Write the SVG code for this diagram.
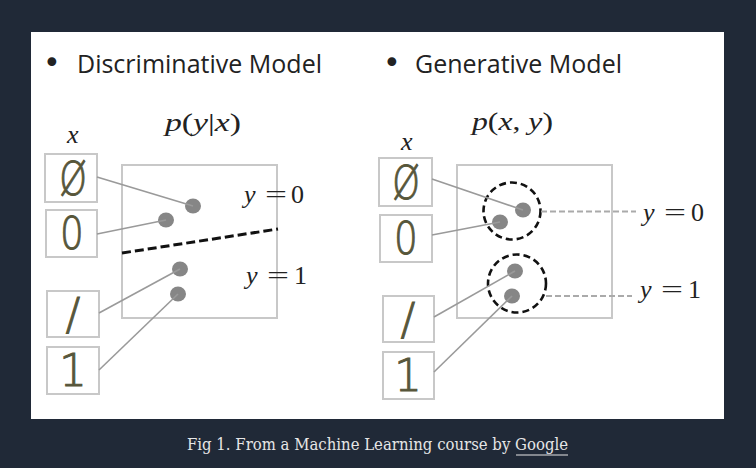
<svg xmlns="http://www.w3.org/2000/svg" width="756" height="468" viewBox="0 0 756 468">
<style>
.head{font-family:"Open Sans","Liberation Sans",sans-serif;font-size:25px;fill:#222}
.bul{font-family:"DejaVu Sans","Liberation Sans",sans-serif;font-size:30px;fill:#222}
.math{font-family:"Liberation Serif","DejaVu Serif",serif;font-size:26px;fill:#222}
.it{font-style:italic}
.box{fill:none;stroke:#c8c8c8;stroke-width:2}
.digit{font-family:"DejaVu Sans","Liberation Sans",sans-serif;font-weight:200;font-size:44px;fill:#57563a;stroke:#57563a;stroke-width:0.9;text-anchor:middle}
.dot{fill:#868686}
.conn{stroke:#9a9a9a;stroke-width:1.6;fill:none}
.cap{font-family:"DejaVu Serif","Liberation Serif",serif;font-size:16.5px;fill:#e6e6e6}
</style>
<rect width="756" height="468" fill="#202937"/>
<rect x="31" y="32" width="693" height="387" fill="#ffffff"/>

<g id="discriminative">
<text class="bul" x="43" y="73">•</text>
<text class="head" x="77" y="72.5" textLength="245" lengthAdjust="spacingAndGlyphs">Discriminative Model</text>
<text class="math" x="165" y="131" textLength="76" lengthAdjust="spacingAndGlyphs"><tspan class="it">p</tspan>(<tspan class="it">y</tspan>|<tspan class="it">x</tspan>)</text>
<text class="math it" x="67" y="143">x</text>
<rect class="box" x="122" y="165" width="155" height="153"/>
</g>

<g id="d-in-1"><rect class="box" x="45" y="154" width="52" height="48"/><text class="digit" transform="translate(73 195) scale(0.8 1.05)">Ø</text></g>
<g id="d-in-2"><rect class="box" x="46" y="210" width="51" height="47"/><text class="digit" transform="translate(72 249) scale(0.85 1)">0</text></g>
<g id="d-in-3"><rect class="box" x="47" y="291" width="52" height="46"/><text class="digit" x="73" y="330">/</text></g>
<g id="d-in-4"><rect class="box" x="47" y="347" width="52" height="47"/><text class="digit" x="73" y="386">1</text></g>

<g id="d-dots">
<ellipse class="dot" cx="193" cy="206" rx="8" ry="7.5"/>
<ellipse class="dot" cx="166" cy="220" rx="8" ry="7.5"/>
<ellipse class="dot" cx="180" cy="269" rx="8" ry="7.5"/>
<ellipse class="dot" cx="178" cy="294" rx="8" ry="7.5"/>
</g>
<g id="d-labels">
<text class="math" y="202.5"><tspan class="it" x="244">y</tspan><tspan x="265" textLength="22" lengthAdjust="spacingAndGlyphs">=</tspan><tspan x="291">0</tspan></text>
<text class="math" y="284"><tspan class="it" x="246">y</tspan><tspan x="267" textLength="22" lengthAdjust="spacingAndGlyphs">=</tspan><tspan x="294">1</tspan></text>
</g>

<g id="generative">
<text class="bul" x="383" y="73">•</text>
<text class="head" x="415" y="72.5" textLength="207" lengthAdjust="spacingAndGlyphs">Generative Model</text>
<text class="math" x="472" y="130" textLength="81" lengthAdjust="spacingAndGlyphs"><tspan class="it">p</tspan>(<tspan class="it">x</tspan>, <tspan class="it">y</tspan>)</text>
<text class="math it" x="401" y="150">x</text>
<rect class="box" x="457" y="165" width="155" height="153"/>
</g>

<g id="g-in-1"><rect class="box" x="379" y="158" width="53" height="48"/><text class="digit" transform="translate(406 199) scale(0.8 1.05)">Ø</text></g>
<g id="g-in-2"><rect class="box" x="380" y="215" width="52" height="47"/><text class="digit" transform="translate(406 254) scale(0.85 1)">0</text></g>
<g id="g-in-3"><rect class="box" x="383" y="296" width="51" height="46"/><text class="digit" x="408" y="335">/</text></g>
<g id="g-in-4"><rect class="box" x="383" y="352" width="51" height="47"/><text class="digit" x="408" y="391">1</text></g>

<g id="g-dots">
<ellipse class="dot" cx="523" cy="210" rx="8" ry="7.5"/>
<ellipse class="dot" cx="500" cy="222" rx="8" ry="7.5"/>
<ellipse class="dot" cx="515" cy="271" rx="8" ry="7.5"/>
<ellipse class="dot" cx="512" cy="296" rx="8" ry="7.5"/>
</g>
<g id="g-clusters">
<circle cx="512" cy="211" r="28.5" fill="none" stroke="#111" stroke-width="2.6" stroke-dasharray="7,4"/>
<circle cx="517" cy="283.5" r="29" fill="none" stroke="#111" stroke-width="2.6" stroke-dasharray="7,4"/>
</g>
<g id="g-labels">
<text class="math" y="221"><tspan class="it" x="643">y</tspan><tspan x="664" textLength="22" lengthAdjust="spacingAndGlyphs">=</tspan><tspan x="691">0</tspan></text>
<text class="math" y="298"><tspan class="it" x="640">y</tspan><tspan x="661" textLength="22" lengthAdjust="spacingAndGlyphs">=</tspan><tspan x="688">1</tspan></text>
</g>

<g id="connectors">
<line class="conn" x1="97" y1="177" x2="193" y2="206"/>
<line class="conn" x1="97" y1="234" x2="166" y2="220"/>
<line class="conn" x1="99" y1="313" x2="180" y2="269"/>
<line class="conn" x1="99" y1="370" x2="178" y2="294"/>
<line x1="122" y1="253" x2="278" y2="229" stroke="#111" stroke-width="3" stroke-dasharray="9,4"/>
<line class="conn" x1="432" y1="179" x2="523" y2="210"/>
<line class="conn" x1="432" y1="235" x2="500" y2="222"/>
<line class="conn" x1="434" y1="317" x2="515" y2="271"/>
<line class="conn" x1="434" y1="372" x2="512" y2="296"/>
<line x1="541" y1="211.5" x2="636" y2="211.5" stroke="#aaaaaa" stroke-width="2" stroke-dasharray="6,3"/>
<line x1="546" y1="296" x2="632" y2="296" stroke="#aaaaaa" stroke-width="2" stroke-dasharray="6,3"/>
</g>

<g id="caption">
<text class="cap" x="187" y="450" textLength="381" lengthAdjust="spacingAndGlyphs">Fig 1. From a Machine Learning course by Google</text>
<line x1="516" y1="455" x2="568" y2="455" stroke="#e6e6e6" stroke-width="1"/>
</g>
</svg>
